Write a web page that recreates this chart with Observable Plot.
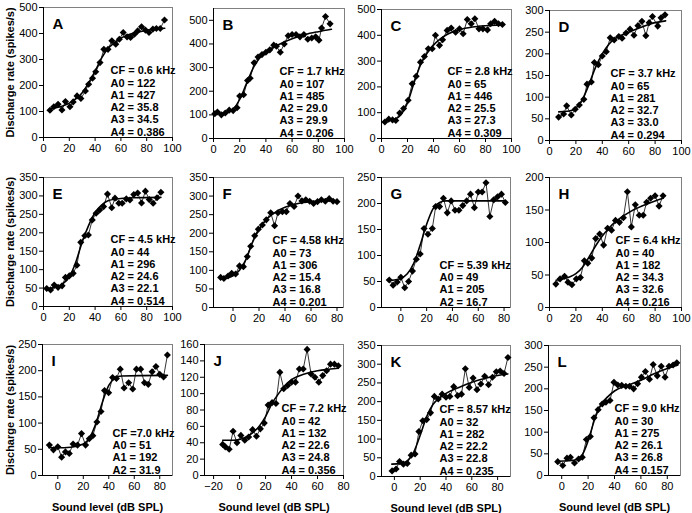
<!DOCTYPE html>
<html><head><meta charset="utf-8">
<script src="https://cdn.jsdelivr.net/npm/d3@7"></script>
<script src="https://cdn.jsdelivr.net/npm/@observablehq/plot@0.6"></script>
<style>
html,body{margin:0;padding:0;background:#fff;}
#chart{position:relative;width:692px;height:513px;overflow:hidden;background:#fff;}
#chart svg{position:absolute;left:0;top:0;}
</style></head><body><div id="chart"></div>
<script>
// ---------------- DATA ----------------
const letters = ["A","B","C","D","E","F","G","H","I","J","K","L"];

const levelA = [5,8,11.3,14.3,17,20.5,23,26,29,32.5,35,38,40.5,43.8,46.8,50,53,56,58.8,61.8,64.8,67.5,70.5,73,76,79,81.8,84.8,87.5,90.5,93.8];
const rateA  = [105,118,128,106,138,118,137,160,150,179,205,228,253,288,339,339,372,359,378,404,387,385,397,410,426,413,404,417,419,419,452];
const fitLevelA = [5,20,30,35,40,45,50,55,60,70,80,94];
const fitRateA  = [110,132,172,210,255,305,342,365,382,402,412,420];
const textA = ["CF = 0.6 kHz","A0 = 122","A1 = 427","A2 = 35.8","A3 = 34.5","A4 = 0.386"];

const levelB = [1,3,6,9,12,15,18,20,23,26,28,31,34,37,40,43,46,48,51,54,57,60,63,66,69,72,75,78,80.5,82.5,85.5,89];
const rateB  = [105,112,100,108,120,118,130,180,185,245,255,320,345,355,365,375,395,390,365,400,435,440,440,430,440,420,425,430,416,467,516,485];
const fitLevelB = [1,10,15,20,25,30,35,40,50,60,70,80,90];
const fitRateB  = [105,110,125,165,230,295,340,365,398,422,440,452,462];
const textB = ["CF = 1.7 kHz","A0 = 107","A1 = 485","A2 = 29.0","A3 = 29.9","A4 = 0.206"];

const levelC = [2.6,5.6,8.5,11,14,17,20.5,23.6,26.7,30,33,36,39,41.5,44.6,47,50.5,53.6,57,60,62.8,66,69,71.8,75,78,81.5,84,87,90,93];
const rateC  = [64,75,72,70,99,116,148,212,241,296,318,348,348,400,361,383,419,428,412,425,406,461,445,464,425,425,421,445,454,445,442];
const fitLevelC = [2,10,15,20,25,30,35,40,45,50,60,70,80,93];
const fitRateC  = [70,75,92,138,215,285,330,362,385,402,422,432,437,440];
const textC = ["CF = 2.8 kHz","A0 = 65","A1 = 446","A2 = 25.5","A3 = 27.3","A4 = 0.309"];

const levelD = [6.9,10.7,13,16.5,19.5,22.6,26,28.4,31.7,34,37,40,43,46,49,52.5,55,58,61,64,67,70,73,75.5,78,82,84.5,87.5];
const rateD  = [54,61,80,59,72,82,95,130,135,180,175,195,205,237,232,240,236,248,257,243,265,275,242,272,286,264,283,290];
const fitLevelD = [7,15,20,25,30,35,40,45,50,60,70,80,88];
const fitRateD  = [66,68,75,95,130,170,200,222,236,250,262,272,276];
const textD = ["CF = 3.7 kHz","A0 = 65","A1 = 281","A2 = 32.7","A3 = 33.0","A4 = 0.294"];

const levelE = [2.5,5.5,8.3,11.3,14.4,17,20,23,25.9,28.9,32,34.8,37.8,40.8,43.6,46.6,49.6,52.9,55.4,58.4,61,64.2,67,70,73,76,79,82,85,88,91];
const rateE  = [49,45,58,52,56,79,83,90,112,174,192,194,235,253,262,271,305,268,294,280,280,292,289,304,308,281,313,290,280,295,310];
const fitLevelE = [2,10,15,20,25,30,35,40,45,50,60,70,91];
const fitRateE  = [48,52,62,80,120,175,220,255,275,287,293,295,296];
const textE = ["CF = 4.5 kHz","A0 = 44","A1 = 296","A2 = 24.6","A3 = 22.1","A4 = 0.514"];

const levelF = [-9.5,-7,-3.8,-1,2,5,8,11,13.6,16.7,19.5,22.6,25.6,29,32,34.6,38,41,43.8,47,50,53,56,59,62,65,68,71,74,77,80];
const rateF  = [81,78,85,92,90,112,110,137,165,193,211,222,236,255,220,255,258,258,280,272,300,287,290,286,280,285,290,286,293,286,285];
const fitLevelF = [-9,-5,0,5,10,15,20,25,30,35,40,50,60,70,80];
const fitRateF  = [77,79,85,100,130,175,210,235,250,262,270,280,285,287,288];
const textF = ["CF = 4.58 kHz","A0 = 73","A1 = 306","A2 = 15.4","A3 = 16.8","A4 = 0.201"];

const levelG = [-9,-6,-2.8,0,3,6,9,12,15,18,21,24.4,27,30,33,36,39,42,45,48,51,54,57,60,63,66,69,72,75,78,81];
const rateG  = [53,43,49,58,38,50,70,93,103,152,141,152,194,194,210,182,205,187,187,196,205,218,192,222,222,240,175,207,213,218,202];
const fitLevelG = [-9,-5,0,5,10,15,20,25,30,35,81];
const fitRateG  = [52,53,56,65,85,120,160,190,202,205,205];
const textG = ["CF = 5.39 kHz","A0 = 49","A1 = 205","A2 = 16.7"];

const levelH = [4.8,8,11.4,14,17,20.3,23.4,26.4,29,32,35,38,41,44,47,50,53,56,59,62,65,68,71,73.6,76.6,80,83,86];
const rateH  = [36,44,48,39,35,44,46,72,68,76,106,113,96,122,119,134,131,138,178,124,158,142,142,162,168,172,156,172];
const fitLevelH = [5,10,15,20,25,30,35,40,45,50,60,70,80,86];
const fitRateH  = [42,44,47,52,62,78,95,110,122,132,146,156,164,168];
const textH = ["CF = 6.4 kHz","A0 = 40","A1 = 182","A2 = 34.3","A3 = 32.6","A4 = 0.216"];

const levelI = [-6.6,-3.4,0,3,6,9,12,15.5,18.6,21.8,24.7,27.5,30.7,33.9,36.7,39.9,43,46,49,52,55.6,58.8,61.7,65,68,71,74,77,80,83,86];
const rateI  = [58,49,55,35,45,42,60,58,80,58,70,76,102,122,162,158,187,185,203,167,177,165,203,203,177,174,198,208,193,188,230];
const fitLevelI = [-7,0,10,20,25,30,35,40,45,50,86];
const fitRateI  = [53,53,54,60,72,100,140,172,186,190,191];
const textI = ["CF =7.0 kHz","A0 = 51","A1 = 192","A2 = 31.9"];

const levelJ = [-13,-11,-8,-5,-2,1,4,7,10,13,16,19,22,25,28,31,34,37,40,43,46,49,52,55,58,61,64,67,70,73,76];
const rateJ  = [38,35,32,54,40,49,43,47,56,48,57,64,86,89,88,126,106,110,114,114,130,130,154,124,120,114,122,128,136,136,134];
const fitLevelJ = [-13,-5,0,5,10,15,20,25,30,35,40,50,60,70,76];
const fitRateJ  = [43,43,44,47,52,60,72,88,100,110,117,124,128,130,131];
const textJ = ["CF = 7.2 kHz","A0 = 42","A1 = 132","A2 = 22.6","A3 = 24.8","A4 = 0.356"];

const levelK = [-1.8,1.3,4,7,10,13,16,19,22,25,28,31,34,37,40,43,46,49,52,55,58,61,64,67,70,73,76,79,82,85,88];
const rateK  = [15,20,40,33,35,57,60,120,149,152,170,214,207,220,212,214,240,216,220,288,238,263,232,247,268,245,265,280,282,275,318];
const fitLevelK = [-2,5,10,15,20,25,30,35,40,50,60,70,80,88];
const fitRateK  = [33,35,42,65,110,160,193,210,222,238,252,262,270,274];
const textK = ["CF = 8.57 kHz","A0 = 32","A1 = 282","A2 = 22.2","A3 = 22.8","A4 = 0.235"];

const levelL = [-3,0.8,4,6.6,9.7,12.8,15.6,18.7,21.7,24.5,27.6,30.7,33.5,36.6,39.6,42.5,45.5,48.6,51.4,54.5,57.5,60.4,63.4,66.5,69.3,72.4,75.4,78.3,81.3,84.4,87.2];
const rateL  = [32,23,40,42,29,38,42,83,90,133,152,165,169,173,215,209,208,206,206,200,212,227,240,222,256,230,252,227,252,255,260];
const fitLevelL = [-3,5,10,15,20,25,30,35,40,50,60,70,80,88];
const fitRateL  = [33,34,36,45,80,130,165,182,195,208,220,235,247,255];
const textL = ["CF = 9.0 kHz","A0 = 30","A1 = 275","A2 = 26.1","A3 = 26.8","A4 = 0.157"];

const xTicks0 = [0,20,40,60,80,100];
const xTicks1 = [0,20,40,60,80];
const xTicksJ = [-20,0,20,40,60,80];
const yLabel = "Discharge rate (spikes/s)";
const xLabel = "Sound level (dB SPL)";

// ---------------- LAYOUT ----------------
const W = 692, H = 513;
const FONT = "'Liberation Sans', Arial, Helvetica, sans-serif";
const panels = [
  {L:"A", lv:levelA, rt:rateA, fl:fitLevelA, fr:fitRateA, tx:textA, frame:[43,172,7,137],  xd:[0,100],  xt:xTicks0, yd:[0,500], yt:d3.range(0,501,100), tdx:67},
  {L:"B", lv:levelB, rt:rateB, fl:fitLevelB, fr:fitRateB, tx:textB, frame:[213,344,8,138], xd:[0,100],  xt:xTicks0, yd:[0,550], yt:d3.range(0,501,100), tdx:66},
  {L:"C", lv:levelC, rt:rateC, fl:fitLevelC, fr:fitRateC, tx:textC, frame:[381,511,9,138], xd:[0,100],  xt:xTicks0, yd:[0,500], yt:d3.range(0,501,100), tdx:66},
  {L:"D", lv:levelD, rt:rateD, fl:fitLevelD, fr:fitRateD, tx:textD, frame:[549,681,10,140],xd:[0,100],  xt:xTicks0, yd:[0,300], yt:d3.range(0,301,50),  tdx:61},
  {L:"E", lv:levelE, rt:rateE, fl:fitLevelE, fr:fitRateE, tx:textE, frame:[43,172,177,306], xd:[0,100], xt:xTicks0, yd:[0,350], yt:d3.range(0,351,50),  tdx:67},
  {L:"F", lv:levelF, rt:rateF, fl:fitLevelF, fr:fitRateF, tx:textF, frame:[213,343,177,307],xd:[-15,85], xt:xTicks1, yd:[0,350], yt:d3.range(0,351,50),  tdx:59},
  {L:"G", lv:levelG, rt:rateG, fl:fitLevelG, fr:fitRateG, tx:textG, frame:[381,510,177,307],xd:[-15,85], xt:xTicks1, yd:[0,250], yt:d3.range(0,251,50),  tdx:58},
  {L:"H", lv:levelH, rt:rateH, fl:fitLevelH, fr:fitRateH, tx:textH, frame:[549,681,177,307],xd:[0,100],  xt:xTicks0, yd:[0,200], yt:d3.range(0,201,50),  tdx:66},
  {L:"I", lv:levelI, rt:rateI, fl:fitLevelI, fr:fitRateI, tx:textI, frame:[42,172,344,475], xd:[-12,90], xt:xTicks1, yd:[0,250], yt:d3.range(0,251,50),  tdx:70},
  {L:"J", lv:levelJ, rt:rateJ, fl:fitLevelJ, fr:fitRateJ, tx:textJ, frame:[204,343,344,475],xd:[-27,80], xt:xTicksJ, yd:[0,160], yt:d3.range(0,161,20),  tdx:77},
  {L:"K", lv:levelK, rt:rateK, fl:fitLevelK, fr:fitRateK, tx:textK, frame:[381,510,345,476],xd:[-10,90], xt:xTicks1, yd:[0,350], yt:d3.range(0,351,50),  tdx:58},
  {L:"L", lv:levelL, rt:rateL, fl:fitLevelL, fr:fitRateL, tx:textL, frame:[548,680,345,475],xd:[-10,90], xt:xTicks1, yd:[0,300], yt:d3.range(0,301,50),  tdx:66}
];

const root = document.getElementById("chart");
panels.forEach((p, idx) => {
  const [l, r, t, b] = p.frame;
  const pts = p.lv.map((x, i) => ({x, y: p.rt[i]}));
  const fit = p.fl.map((x, i) => ({x, y: p.fr[i]}));
  const col = idx % 4, row = Math.floor(idx / 4);
  const marks = [
    Plot.frame({stroke: "#808080", strokeWidth: 1}),
    Plot.ruleX([p.xd[0]], {stroke: "#000", strokeWidth: 1}),
    Plot.ruleY([0], {stroke: "#000", strokeWidth: 1}),
    Plot.axisX({ticks: p.xt, tickSize: 4, tickPadding: 3, label: null}),
    Plot.axisY({ticks: p.yt, tickSize: 4, tickPadding: 2, label: null}),
    Plot.line(pts, {x: "x", y: "y", stroke: "#000", strokeWidth: 0.8}),
    Plot.line(fit, {x: "x", y: "y", stroke: "#000", strokeWidth: 1.6, curve: "monotone-x"}),
    Plot.dot(pts, {x: "x", y: "y", symbol: "diamond2", r: 3.2, fill: "#000", stroke: "none"}),
    Plot.text([p.L], {text: d => d, frameAnchor: "top-left", dx: 9, dy: 21, lineAnchor: "bottom", textAnchor: "start", fontSize: 15, fontWeight: "bold"}),
    Plot.text([p.tx.join("\n")], {text: d => d, frameAnchor: "bottom-left", dx: p.tdx, dy: -2, lineAnchor: "bottom", textAnchor: "start", fontSize: 11, fontWeight: "bold", lineHeight: 1.11})
  ];
  if (col === 0) {
    marks.push(Plot.text([yLabel], {text: d => d, frameAnchor: "left", rotate: -90, dx: 10 - l, textAnchor: "middle", lineAnchor: "middle", fontSize: 11, fontWeight: "bold"}));
  }
  if (row === 2) {
    marks.push(Plot.text([xLabel], {text: d => d, frameAnchor: "bottom", dy: 35, lineAnchor: "bottom", textAnchor: "middle", fontSize: 11, fontWeight: "bold"}));
  }
  const svg = Plot.plot({
    width: W, height: H,
    marginLeft: l, marginRight: W - r, marginTop: t, marginBottom: H - b,
    style: {background: "transparent", fontFamily: FONT, fontSize: "11px", color: "#000", overflow: "visible"},
    x: {domain: p.xd},
    y: {domain: p.yd},
    marks
  });
  root.appendChild(svg);
});
</script></body></html>
